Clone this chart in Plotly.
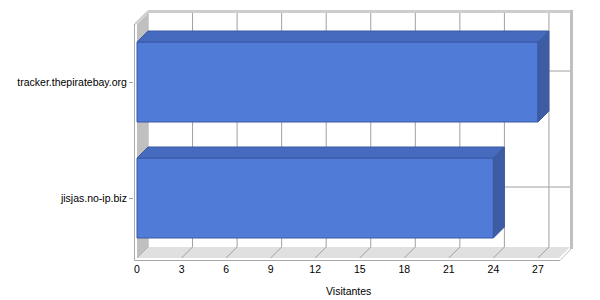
import plotly.graph_objects as go

# ---- data ----
categories = ["jisjas.no-ip.biz", "tracker.thepiratebay.org"]
visitantes = [24, 27]
x_ticks = [0, 3, 6, 9, 12, 15, 18, 21, 24, 27]
x_title = "Visitantes"

# ---- geometry of the pseudo-3D frame (pixels) ----
W, H = 600, 300
PLOT_L, PLOT_R, PLOT_T, PLOT_B = 134, 573, 10, 261
PX_X = 14.85     # px per visitor
PX_Y = 116.0     # px per category step
X0_PX = 137      # px of value 0 on the front plane
Y0_PX = 198      # px of first category centre
DEPTH = 11       # px depth offset (right / up)


def px2x(p):
    return (p - X0_PX) / PX_X


def px2y(p):
    return (Y0_PX - p) / PX_Y


xrange = [px2x(PLOT_L), px2x(PLOT_R)]
yrange = [px2y(PLOT_B), px2y(PLOT_T)]
DX = DEPTH / PX_X
DY = DEPTH / PX_Y
XF = px2x(559)          # right end of front plane
YB = px2y(258)          # bottom of front plane
YT = px2y(24)           # top of front plane
BAR_W = 80 / PX_Y

GRID = "#A0A0A0"
WALL = "#C0C0C0"
FLOOR = "#E0E0E0"
FRONT = "#507CD7"
TOP = "#466BBE"
SIDE = "#3D5CA4"
EDGE = "#3A59A6"

shapes = []


def poly(pts, fill, layer="below", line=None, lw=0):
    path = "M " + " L ".join(f"{x:.5f},{y:.5f}" for x, y in pts) + " Z"
    return dict(type="path", path=path, xref="x", yref="y", fillcolor=fill,
                line=dict(width=lw, color=line or fill), layer=layer)


def seg(x0, y0, x1, y1, color, w=1, layer="below"):
    return dict(type="line", x0=x0, y0=y0, x1=x1, y1=y1, xref="x", yref="y",
                line=dict(color=color, width=w), layer=layer)


# back wall
shapes.append(poly([(DX, YB + DY), (XF + DX, YB + DY), (XF + DX, YT + DY), (DX, YT + DY)], "white"))
# back wall gridlines
for t in x_ticks:
    shapes.append(seg(t + DX, YB + DY, t + DX, YT + DY, GRID))
for i in range(len(categories)):
    shapes.append(seg(DX, i + DY, XF + DX, i + DY, GRID))
# floor
shapes.append(poly([(0, YB), (XF, YB), (XF + DX, YB + DY), (DX, YB + DY)], FLOOR))
for t in x_ticks:
    shapes.append(seg(t, YB, t + DX, YB + DY, GRID))
# left wall
shapes.append(poly([(0, YB), (0, YT), (DX, YT + DY), (DX, YB + DY)], WALL))
# frame outline
shapes.append(seg(DX, px2y(11.5), XF + DX + px2x(571) - px2x(570), px2y(11.5), "#CDCDCD", 3))
shapes.append(seg(px2x(135), YT, DX, px2y(11.5), "#CDCDCD", 2))
shapes.append(seg(px2x(571.5), px2y(10), px2x(571.5), px2y(249), WALL, 3))
shapes.append(seg(px2x(572), px2y(248), px2x(560), px2y(260.5), WALL, 1))
shapes.append(seg(px2x(134.5), px2y(260.5), px2x(560), px2y(260.5), "#A8A8A8", 1))
shapes.append(seg(px2x(134.5), YT, px2x(134.5), px2y(260.5), "#A8A8A8", 1))

# bar top & side faces
for i, v in enumerate(visitantes):
    yt = i + BAR_W / 2
    yb = i - BAR_W / 2
    shapes.append(poly([(0, yt), (v, yt), (v + DX, yt + DY), (DX, yt + DY)], TOP,
                       layer="above", line=EDGE, lw=1))
    shapes.append(poly([(v, yb), (v, yt), (v + DX, yt + DY), (v + DX, yb + DY)], SIDE,
                       layer="above", line=EDGE, lw=1))

fig = go.Figure(go.Bar(
    x=visitantes, y=list(range(len(categories))), orientation="h", width=BAR_W,
    marker=dict(color=FRONT, line=dict(color=EDGE, width=1)),
    hoverinfo="skip",
))

FONT = dict(family="Liberation Sans, Arial, sans-serif", size=10.5, color="black")

fig.update_layout(
    width=W, height=H,
    margin=dict(l=PLOT_L, r=W - PLOT_R, t=PLOT_T, b=H - PLOT_B, pad=0),
    paper_bgcolor="white", plot_bgcolor="rgba(0,0,0,0)",
    showlegend=False, font=FONT, shapes=shapes,
    xaxis=dict(range=xrange, tickvals=x_ticks, ticktext=[str(t) for t in x_ticks],
               showgrid=False, zeroline=False, showline=False, ticks="",
               tickfont=FONT, fixedrange=True),
    yaxis=dict(range=yrange, tickvals=list(range(len(categories))), ticktext=categories,
               showgrid=False, zeroline=False, showline=False, ticks="outside",
               ticklen=4, tickcolor=GRID, tickfont=FONT, fixedrange=True),
    annotations=[dict(text=x_title, x=XF / 2, xref="x", y=0, yref="paper",
                      yanchor="top", yshift=-22, showarrow=False, font=FONT)],
)

fig.write_html("out.html")
